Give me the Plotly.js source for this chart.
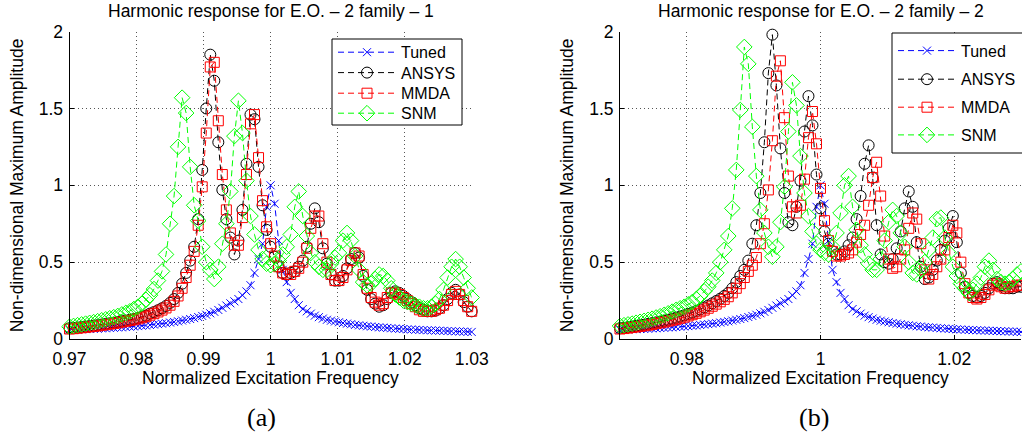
<!DOCTYPE html>
<html>
<head>
<meta charset="utf-8">
<script src="https://cdn.plot.ly/plotly-3.0.1.min.js"></script>
<style>
html,body{margin:0;padding:0;background:#fff;}
#chart{width:1022px;height:435px;}
</style>
</head>
<body>
<div id="chart"></div>
<script>
// Normalized excitation frequency (shared by both panels)
const freq = [
0.9700,0.9706,0.9712,0.9718,0.9724,0.9730,0.9736,0.9742,0.9748,0.9754,
0.9760,0.9766,0.9772,0.9778,0.9784,0.9790,0.9796,0.9802,0.9808,0.9814,
0.9820,0.9826,0.9832,0.9838,0.9844,0.9850,0.9856,0.9862,0.9868,0.9874,
0.9880,0.9886,0.9892,0.9898,0.9904,0.9910,0.9916,0.9922,0.9928,0.9934,
0.9940,0.9946,0.9952,0.9958,0.9964,0.9970,0.9976,0.9982,0.9988,0.9994,
1.0000,1.0006,1.0012,1.0018,1.0024,1.0030,1.0036,1.0042,1.0048,1.0054,
1.0060,1.0066,1.0072,1.0078,1.0084,1.0090,1.0096,1.0102,1.0108,1.0114,
1.0120,1.0126,1.0132,1.0138,1.0144,1.0150,1.0156,1.0162,1.0168,1.0174,
1.0180,1.0186,1.0192,1.0198,1.0204,1.0210,1.0216,1.0222,1.0228,1.0234,
1.0240,1.0246,1.0252,1.0258,1.0264,1.0270,1.0276,1.0282,1.0288,1.0294,
1.0300];

// Tuned response (same in both panels)
const tunedAmp = [
0.060,0.061,0.062,0.063,0.064,0.065,0.066,0.067,0.069,0.070,
0.072,0.073,0.075,0.076,0.078,0.080,0.082,0.084,0.086,0.088,
0.091,0.094,0.097,0.100,0.103,0.107,0.111,0.115,0.120,0.125,
0.130,0.136,0.143,0.150,0.158,0.167,0.177,0.189,0.203,0.218,
0.232,0.245,0.260,0.285,0.310,0.350,0.430,0.520,0.620,0.860,
1.000,0.880,0.640,0.450,0.370,0.300,0.260,0.220,0.195,0.180,
0.165,0.152,0.142,0.133,0.125,0.119,0.114,0.109,0.104,0.100,
0.096,0.092,0.089,0.086,0.083,0.081,0.078,0.076,0.074,0.072,
0.070,0.068,0.066,0.065,0.063,0.062,0.060,0.059,0.058,0.057,
0.056,0.055,0.054,0.053,0.052,0.051,0.050,0.049,0.048,0.047,
0.046];

// Panel (a): family 1
const ansysFam1 = [
0.070,0.072,0.075,0.078,0.081,0.084,0.087,0.090,0.094,0.098,
0.102,0.106,0.110,0.115,0.120,0.125,0.130,0.137,0.144,0.152,
0.165,0.175,0.187,0.200,0.215,0.235,0.260,0.300,0.360,0.430,
0.510,0.600,0.780,1.100,1.500,1.850,1.680,1.280,0.970,0.780,
0.660,0.550,0.640,0.840,1.140,1.460,1.430,1.120,0.870,0.710,
0.600,0.535,0.470,0.430,0.420,0.430,0.440,0.470,0.510,0.600,
0.750,0.850,0.760,0.590,0.490,0.420,0.380,0.380,0.410,0.460,
0.520,0.560,0.530,0.410,0.320,0.260,0.230,0.210,0.220,0.260,
0.300,0.310,0.300,0.280,0.260,0.240,0.220,0.200,0.190,0.180,
0.180,0.185,0.200,0.220,0.260,0.300,0.320,0.290,0.240,0.210,
0.180];
const mmdaFam1 = [
0.065,0.067,0.070,0.073,0.076,0.079,0.082,0.085,0.089,0.093,
0.097,0.101,0.105,0.110,0.115,0.120,0.125,0.131,0.138,0.145,
0.155,0.165,0.176,0.188,0.202,0.220,0.245,0.280,0.330,0.400,
0.480,0.570,0.740,0.990,1.340,1.770,1.800,1.420,1.070,0.840,
0.690,0.610,0.610,0.790,1.070,1.400,1.460,1.180,0.900,0.730,
0.620,0.540,0.470,0.430,0.420,0.420,0.440,0.460,0.500,0.590,
0.720,0.800,0.800,0.620,0.500,0.420,0.380,0.380,0.400,0.450,
0.510,0.560,0.540,0.420,0.330,0.270,0.240,0.220,0.230,0.270,
0.300,0.300,0.290,0.270,0.250,0.230,0.210,0.190,0.180,0.180,
0.180,0.190,0.200,0.220,0.250,0.290,0.310,0.290,0.250,0.210,
0.180];
const snmFam1 = [
0.080,0.085,0.090,0.095,0.100,0.105,0.110,0.116,0.122,0.128,
0.135,0.142,0.150,0.160,0.170,0.180,0.195,0.210,0.230,0.255,
0.285,0.325,0.380,0.440,0.550,0.750,0.930,1.250,1.570,1.470,
1.120,0.870,0.770,0.600,0.500,0.450,0.390,0.470,0.620,0.750,
0.960,1.320,1.550,1.340,1.030,0.800,0.680,0.580,0.520,0.490,
0.480,0.490,0.510,0.550,0.600,0.680,0.860,0.960,0.800,0.670,
0.560,0.500,0.470,0.450,0.450,0.490,0.530,0.560,0.640,0.690,
0.640,0.540,0.450,0.370,0.350,0.360,0.390,0.420,0.410,0.380,
0.330,0.290,0.270,0.250,0.240,0.230,0.220,0.210,0.200,0.200,
0.210,0.230,0.260,0.320,0.400,0.470,0.520,0.470,0.400,0.330,
0.270];

// Panel (b): family 2
const ansysFam2 = [
0.070,0.073,0.077,0.081,0.085,0.089,0.093,0.098,0.103,0.108,
0.113,0.119,0.125,0.132,0.139,0.146,0.154,0.163,0.172,0.182,
0.193,0.205,0.218,0.232,0.247,0.262,0.280,0.300,0.330,0.370,
0.410,0.450,0.510,0.620,0.740,0.950,1.280,1.730,1.980,1.650,
1.240,0.950,0.760,0.740,0.860,1.030,1.350,1.580,1.390,1.070,
0.850,0.700,0.620,0.570,0.550,0.550,0.570,0.610,0.660,0.780,
0.930,1.140,1.260,1.050,0.740,0.550,0.500,0.490,0.520,0.590,
0.700,0.850,0.960,0.860,0.630,0.470,0.390,0.400,0.450,0.510,
0.580,0.640,0.720,0.800,0.630,0.430,0.340,0.300,0.280,0.270,
0.280,0.300,0.330,0.360,0.370,0.350,0.330,0.330,0.330,0.340,
0.340];
const mmdaFam2 = [
0.065,0.068,0.071,0.075,0.078,0.082,0.086,0.090,0.095,0.100,
0.105,0.110,0.116,0.122,0.128,0.135,0.142,0.150,0.158,0.167,
0.177,0.188,0.200,0.213,0.227,0.242,0.258,0.275,0.300,0.330,
0.360,0.400,0.440,0.480,0.530,0.620,0.750,0.970,1.290,1.710,
1.810,1.440,1.060,0.860,0.820,0.870,1.040,1.310,1.480,1.270,
0.980,0.770,0.640,0.570,0.540,0.540,0.550,0.560,0.580,0.630,
0.680,0.740,0.870,1.050,1.150,0.930,0.670,0.520,0.460,0.470,
0.520,0.580,0.720,0.820,0.780,0.620,0.450,0.390,0.420,0.470,
0.520,0.580,0.660,0.740,0.690,0.500,0.360,0.300,0.270,0.260,
0.270,0.290,0.320,0.350,0.360,0.340,0.330,0.340,0.340,0.350,
0.350];
const snmFam2 = [
0.085,0.090,0.095,0.100,0.106,0.112,0.118,0.125,0.132,0.140,
0.148,0.157,0.167,0.178,0.190,0.200,0.210,0.225,0.240,0.260,
0.280,0.310,0.340,0.380,0.430,0.500,0.580,0.670,0.850,1.100,
1.490,1.900,1.790,1.380,1.060,0.840,0.690,0.600,0.535,0.600,
0.760,0.990,1.350,1.670,1.520,1.190,0.950,0.800,0.700,0.620,
0.580,0.560,0.550,0.600,0.690,0.820,1.000,1.060,0.860,0.710,
0.610,0.550,0.490,0.450,0.450,0.520,0.640,0.760,0.840,0.800,
0.690,0.600,0.500,0.430,0.420,0.450,0.500,0.580,0.660,0.780,
0.790,0.660,0.560,0.470,0.410,0.360,0.330,0.300,0.320,0.360,
0.400,0.470,0.510,0.450,0.390,0.370,0.360,0.370,0.390,0.420,
0.440];

const seriesNames = ['Tuned','ANSYS','MMDA','SNM'];
const panelTitles = ['Harmonic response for E.O. \u2013 2 family \u2013 1',
                     'Harmonic response for E.O. \u2013 2 family \u2013 2'];
const panelLabels = ['(a)','(b)'];
const xTitle = 'Normalized Excitation Frequency';
const yTitle = 'Non-dimensional Maximum Amplitude';
const xTickValsA = [0.97,0.98,0.99,1,1.01,1.02,1.03];
const xTickTextA = ['0.97','0.98','0.99','1','1.01','1.02','1.03'];
const xTickValsB = [0.98,1,1.02];
const xTickTextB = ['0.98','1','1.02'];
const yTickVals = [0,0.5,1,1.5,2];
const yTickText = ['0','0.5','1','1.5','2'];

// ---- styling ----
const W = 1022, H = 435;
const styles = [
  {color:'#0000ff', symbol:'x-thin-open', size:8},
  {color:'#000000', symbol:'circle-open', size:11},
  {color:'#ff0000', symbol:'square-open', size:10},
  {color:'#00ff00', symbol:'diamond-open', size:12}
];
// legend boxes (pixel geometry) and entry centre rows
const legendBoxes = [
  {x0:332, x1:462, y0:39, y1:125, rows:[52.3, 72.7, 93.3, 113.3]},
  {x0:892, x1:1040, y0:33, y1:153, rows:[50.7, 79.3, 107.3, 135]}
];
const panels = [
  {xa:'x', ya:'y', data:[tunedAmp, ansysFam1, mmdaFam1, snmFam1]},
  {xa:'x2', ya:'y2', data:[tunedAmp, ansysFam2, mmdaFam2, snmFam2]}
];
const font = {family:'"Liberation Sans", Arial, Helvetica, sans-serif', size:17.5, color:'#000'};
const traces = [];
const legends = {};
const shapes = [];
panels.forEach((p, pi) => {
  const box = legendBoxes[pi];
  shapes.push({type:'rect', xref:'paper', yref:'paper', layer:'above',
    x0: box.x0/W, x1: box.x1/W, y0: 1-box.y0/H, y1: 1-box.y1/H,
    fillcolor:'#ffffff', line:{color:'#000', width:1}});
  p.data.forEach((amp, si) => {
    const s = styles[si];
    const lk = 'legend' + (pi*4 + si === 0 ? '' : (pi*4 + si + 1));
    legends[lk] = {x:(box.x0+1)/W, y:1-box.rows[si]/H, xanchor:'left', yanchor:'middle',
      bgcolor:'rgba(0,0,0,0)', borderwidth:0, itemwidth:58,
      font:{family:font.family, size:16, color:'#000'}};
    traces.push({
      type:'scatter', mode:'lines+markers',
      x: freq, y: amp, name: seriesNames[si],
      xaxis: p.xa, yaxis: p.ya, legend: lk,
      cliponaxis: false,
      line: {color: s.color, width: 1, dash: '6px,4px'},
      marker: {symbol: s.symbol, size: s.size, color: s.color,
               line: {color: s.color, width: 1}}
    });
  });
});

function xAxis(dom, vals, text, anchor) {
  return {domain: dom, range:[0.97,1.03], anchor: anchor,
    tickmode:'array', tickvals: vals, ticktext: text,
    ticks:'inside', ticklen:4, tickwidth:1, tickcolor:'#000',
    ticklabelstandoff:4,
    showline:true, linecolor:'#000', linewidth:1, mirror:false,
    showgrid:true, gridcolor:'#555', gridwidth:1, griddash:'1px,3px',
    zeroline:false, tickfont: font, fixedrange:true};
}
function yAxis(dom, anchor) {
  return {domain: dom, range:[0,2], anchor: anchor,
    tickmode:'array', tickvals: yTickVals, ticktext: yTickText,
    ticks:'inside', ticklen:4, tickwidth:1, tickcolor:'#000',
    ticklabelstandoff:2,
    showline:true, linecolor:'#000', linewidth:1, mirror:false,
    showgrid:true, gridcolor:'#555', gridwidth:1, griddash:'1px,3px',
    zeroline:false, tickfont: font, fixedrange:true};
}
const yDom = [(H-339)/H, (H-31.6)/H];
const xDomA = [69.5/W, 471.7/W];
const xDomB = [620/W, 1021/W];
const cA = (69.5+471.7)/2/W, cB = (620+1021)/2/W;

const ann = [];
function addText(text, x, y, opts) {
  ann.push(Object.assign({text:text, x:x, y:y, xref:'paper', yref:'paper',
    showarrow:false, xanchor:'center', yanchor:'middle', font:font}, opts||{}));
}
addText(panelTitles[0], cA, 1-11.5/H);
addText(panelTitles[1], cB, 1-11.5/H);
addText(xTitle, cA, 1-378/H);
addText(xTitle, cB, 1-378/H);
addText(yTitle, 17/W, 1-185.3/H, {textangle:-90});
addText(yTitle, 567/W, 1-185.3/H, {textangle:-90});
const serif = {family:'"Liberation Serif", "DejaVu Serif", serif', size:26, color:'#000'};
addText(panelLabels[0], 261/W, 1-417.5/H, {font:serif});
addText(panelLabels[1], 813.7/W, 1-417.5/H, {font:serif});

const layout = Object.assign({
  width: W, height: H,
  margin:{l:0, r:0, t:0, b:0, autoexpand:false},
  paper_bgcolor:'#fff', plot_bgcolor:'#fff',
  font: font, showlegend: true,
  xaxis: xAxis(xDomA, xTickValsA, xTickTextA, 'y'),
  yaxis: yAxis(yDom, 'x'),
  xaxis2: xAxis(xDomB, xTickValsB, xTickTextB, 'y2'),
  yaxis2: yAxis(yDom, 'x2'),
  shapes: shapes,
  annotations: ann
}, legends);

Plotly.newPlot('chart', traces, layout, {staticPlot:true, displayModeBar:false});
</script>
</body>
</html>
